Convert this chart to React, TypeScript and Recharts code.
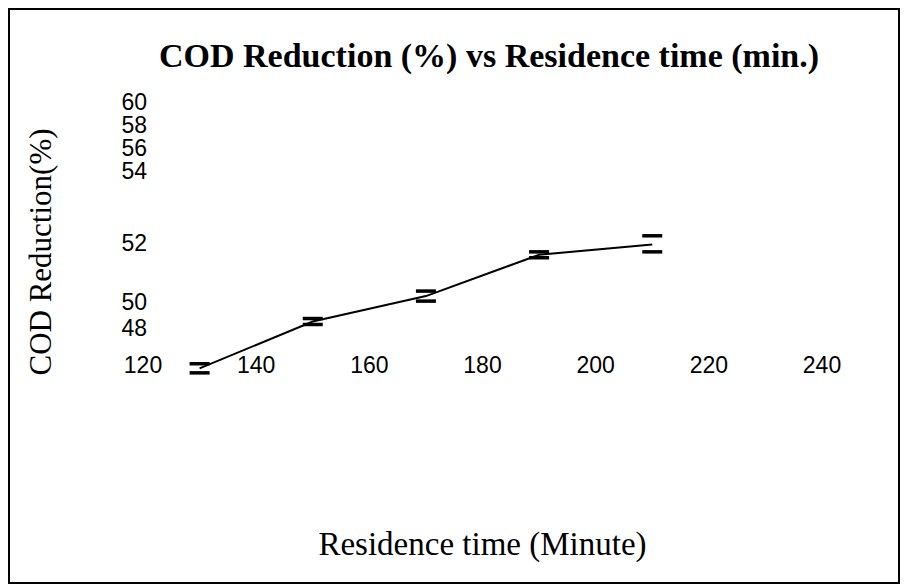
import { ErrorBar, Label, Line, LineChart, XAxis, YAxis } from 'recharts'

// residence time (min) against COD reduction (%), with the spread of each reading
const RESIDENCE_MIN = [130, 150, 170, 190, 210]
const COD_REDUCTION = [44.9, 48.5, 50.2, 51.6, 51.95]
const COD_SPREAD = [0.35, 0.23, 0.17, 0.1, 0.25]

const X_TICKS = [120, 140, 160, 180, 200, 220, 240]
const Y_TICKS = [48, 50, 52, 54, 56, 58, 60]

// The % axis is printed unevenly: each label sits on its own rung above the
// axis floor, and values in between are placed linearly between rungs.
const Y_RUNGS = [72, 98, 157, 229, 252, 275, 298]
const Y_TOP = 340

function toRung(v: number) {
  let i = 0
  while (i < Y_TICKS.length - 2 && v > Y_TICKS[i + 1]) i++
  const t = (v - Y_TICKS[i]) / (Y_TICKS[i + 1] - Y_TICKS[i])
  return Y_RUNGS[i] + t * (Y_RUNGS[i + 1] - Y_RUNGS[i])
}

const rows = RESIDENCE_MIN.map((t, i) => ({
  t,
  cod: COD_REDUCTION[i],
  spread: COD_SPREAD[i],
  rung: toRung(COD_REDUCTION[i]),
}))

const SANS = '"Liberation Sans", Arial, sans-serif'
const SERIF = '"Liberation Serif", "Times New Roman", serif'
const TICK = { fill: '#000', fontSize: 23, fontFamily: SANS }

function YTitle({ viewBox }: { viewBox?: { x: number; y: number; width: number; height: number } }) {
  if (!viewBox) return null
  const cx = viewBox.x + 30
  const cy = viewBox.y + viewBox.height / 2 + 22
  return (
    <text x={cx} y={cy} transform={`rotate(-90 ${cx} ${cy})`} textAnchor="middle"
          dominantBaseline="central" fill="#000" fontSize={31} fontFamily={SERIF}>
      COD Reduction(%)
    </text>
  )
}

export default function App() {
  return (
    <div style={{ position: 'relative', width: 888, height: 572, border: '2px solid #000', background: '#fff' }}>
      <style>{'.recharts-errorBar line:nth-of-type(2){display:none}'}</style>
      <div style={{
        position: 'absolute', left: 149, top: 29, whiteSpace: 'nowrap',
        fontFamily: SERIF, fontWeight: 'bold', fontSize: 34, lineHeight: '34px', color: '#000',
      }}>
        COD Reduction (%) vs Residence time (min.)
      </div>
      <LineChart width={888} height={572} data={rows} margin={{ top: 50, right: 76, bottom: 24, left: 0 }}>
        <XAxis dataKey="t" type="number" domain={[120, 240]} ticks={X_TICKS} interval={0}
               height={158} tick={TICK} tickSize={0} tickMargin={-43} axisLine={false} tickLine={false}>
          <Label value="Residence time (Minute)" position="insideBottom" offset={3}
                 style={{ fill: '#000', fontSize: 33, fontFamily: SERIF }} />
        </XAxis>
        <YAxis type="number" domain={[0, Y_TOP]} allowDataOverflow ticks={Y_RUNGS} interval={0}
               width={133} tick={TICK} tickSize={0} tickMargin={-4} axisLine={false} tickLine={false}
               tickFormatter={(r: number) => String(Y_TICKS[Y_RUNGS.indexOf(r)] ?? '')}
               label={<Label content={YTitle} />} />
        <Line type="linear" dataKey="rung" stroke="#000" strokeWidth={2} dot={false}
              isAnimationActive={false}>
          <ErrorBar
            dataKey={(d: { cod: number; spread: number; rung: number }) => [
              d.rung - toRung(d.cod - d.spread),
              toRung(d.cod + d.spread) - d.rung,
            ]}
            direction="y" width={10} stroke="#000" strokeWidth={3.5} isAnimationActive={false} />
        </Line>
      </LineChart>
    </div>
  )
}
